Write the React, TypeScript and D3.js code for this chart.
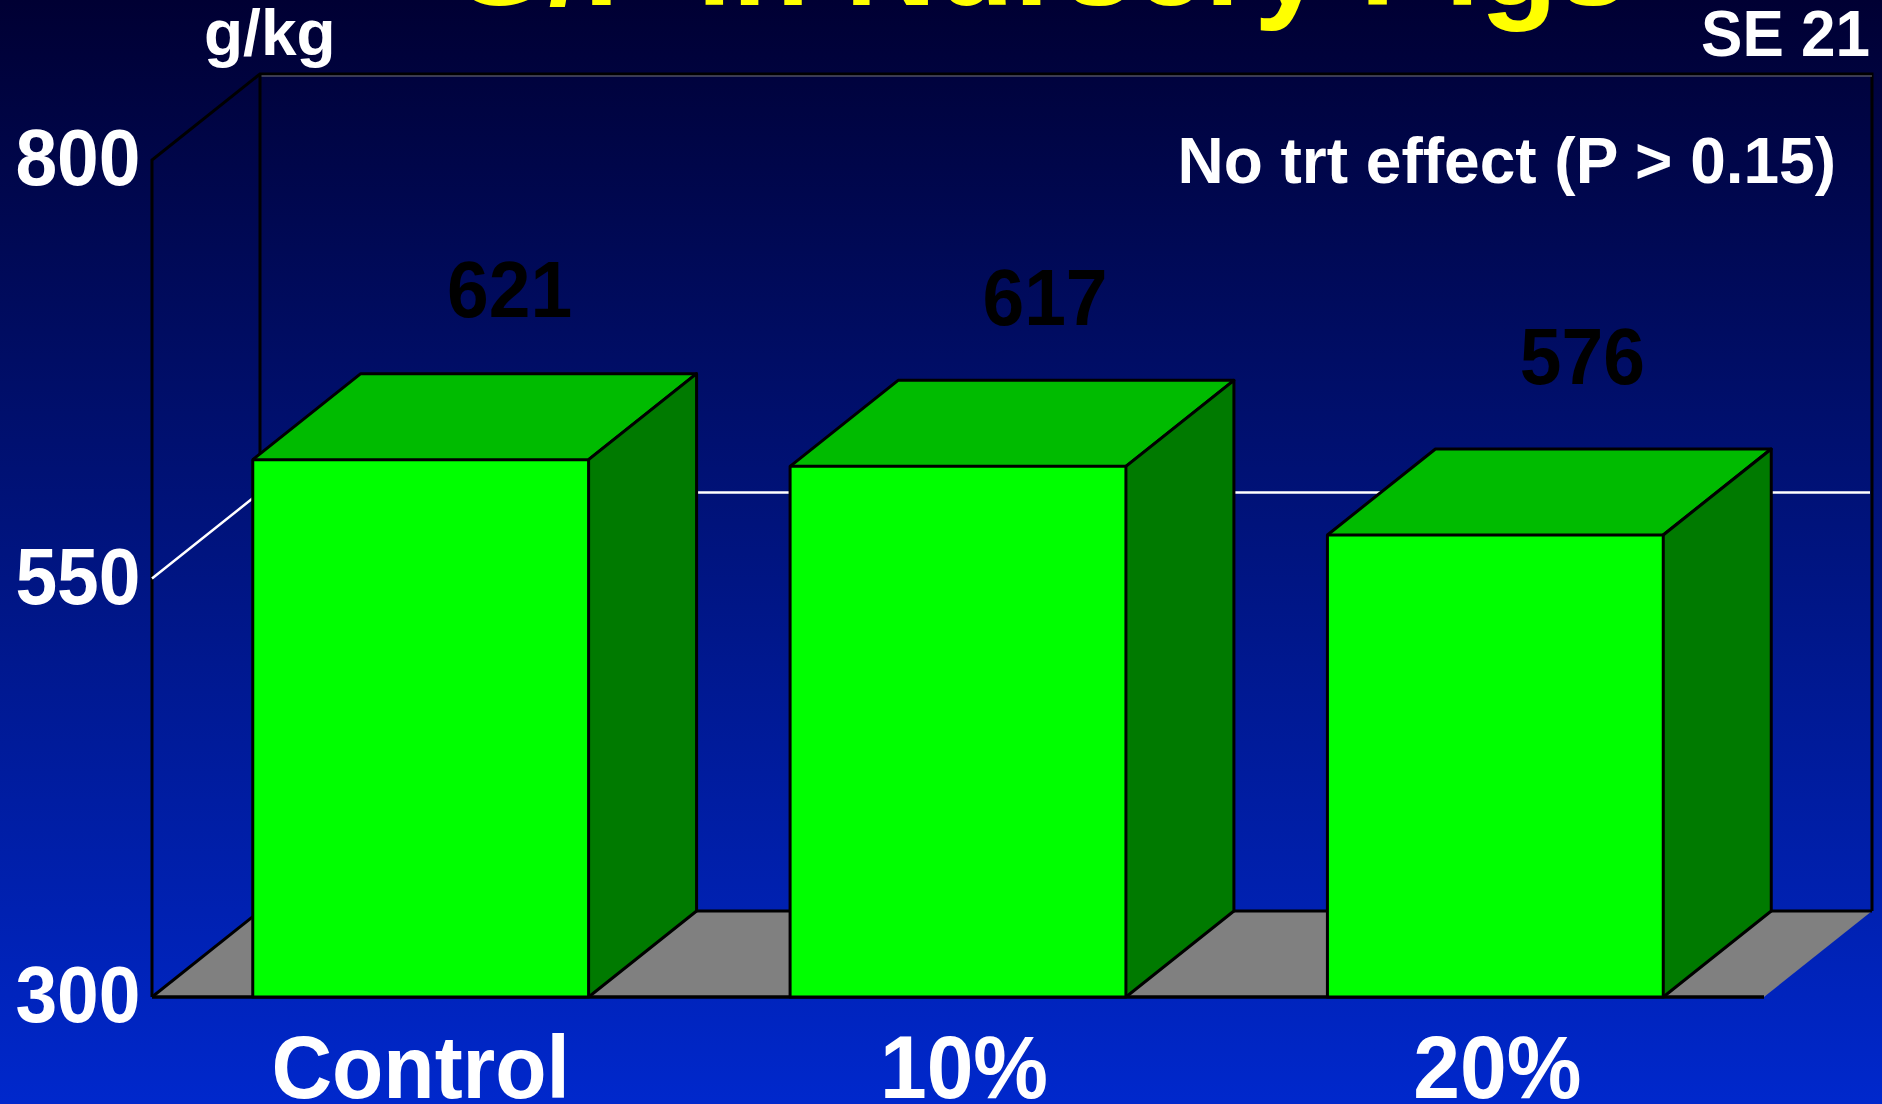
import React from "react";
import * as d3 from "d3";

// Gain efficiency of nursery pigs by treatment
const categories = ["Control", "10%", "20%"];
const values = [621, 617, 576];
const yTicks = [300, 550, 800];
const gridTicks = [550];

const W = 1882;
const H = 1104;
const DX = 108;
const DY = 86;

// Hand placement of the labels relative to their bars
const valueLift = [143, 141, 151];
const valueShift = [89, 87, 87];
const categoryShift = [0, 6, 2];

const x = d3.scaleBand<string>().domain(categories).range([152, 1764]).paddingInner(0.375).paddingOuter(0.1875);
const y = d3.scaleLinear().domain([300, 800]).range([997, 160]);
const poly = d3.line();

const font = "'Liberation Sans', Arial, sans-serif";

// Bold label, stretched a little in height like the slide's typeface
function Label({ x, y, size, sy = 1.06, anchor = "start", fill = "#fff", children }: any) {
  return (
    <text
      transform={`translate(${x},${y}) scale(1,${sy})`}
      textAnchor={anchor}
      fontFamily={font}
      fontWeight="700"
      fontSize={size}
      fill={fill}
    >
      {children}
    </text>
  );
}

export default function App() {
  const y0 = y(300);
  const y1 = y(800);
  const x0 = 152;
  const x1 = 1764;
  const floor = poly([[x0, y0], [x0 + DX, y0 - DY], [x1 + DX, y0 - DY], [x1, y0]])!;
  return (
    <svg width={W} height={H} viewBox={`0 0 ${W} ${H}`} style={{ position: "absolute", left: 0, top: 0, display: "block" }}>
      <defs>
        <linearGradient id="bg" x1="0" y1="0" x2="0" y2="1">
          <stop offset="0" stopColor="#000033" />
          <stop offset="1" stopColor="#0028cc" />
        </linearGradient>
      </defs>
      <rect width={W} height={H} fill="url(#bg)" />

      <Label x={1039} y={5} size={127} sy={1} anchor="middle" fill="#ffff00">G/F in Nursery Pigs</Label>

      {/* Wall outline */}
      <path d={poly([[x0, y0], [x0, y1], [x0 + DX, y1 - DY], [x1 + DX, y1 - DY], [x1 + DX, y0 - DY]])!} fill="none" stroke="#000" strokeWidth={3} />
      <line x1={x0 + DX} x2={x1 + DX} y1={y1 - DY + 2} y2={y1 - DY + 2} stroke="#777" strokeWidth={1} />
      <line x1={x0 + DX} x2={x0 + DX} y1={y1 - DY} y2={y0 - DY} stroke="#000" strokeWidth={3} />

      {/* Floor */}
      <path d={floor} fill="#808080" />
      <line x1={x0 + DX} x2={x1 + DX} y1={y0 - DY} y2={y0 - DY} stroke="#000" strokeWidth={3} />
      <line x1={x0} x2={x0 + DX} y1={y0} y2={y0 - DY} stroke="#000" strokeWidth={3} />
      <line x1={x0} x2={x1} y1={y0} y2={y0} stroke="#000" strokeWidth={3.5} />

      {/* Gridline running along the side wall and the back wall */}
      {gridTicks.map((t) => (
        <path key={t} d={poly([[x0, y(t)], [x0 + DX, y(t) - DY], [x1 + DX - 2, y(t) - DY]])!} fill="none" stroke="#fff" strokeWidth={2.5} />
      ))}

      {/* Bars */}
      {categories.map((c, i) => {
        const l = x(c)!;
        const r = l + x.bandwidth();
        const t = y(values[i]);
        return (
          <g key={c} stroke="#000" strokeWidth={3} strokeLinejoin="round">
            <path d={poly([[l, t], [l + DX, t - DY], [r + DX, t - DY], [r, t]])!} fill="#00bb00" />
            <path d={poly([[r, t], [r + DX, t - DY], [r + DX, y0 - DY], [r, y0]])!} fill="#007a00" />
            <rect x={l} y={t} width={x.bandwidth()} height={y0 - t} fill="#00ff00" />
          </g>
        );
      })}

      {/* Value labels */}
      {categories.map((c, i) => (
        <Label key={c} x={x(c)! + x.bandwidth() / 2 + valueShift[i]} y={y(values[i]) - valueLift[i]} size={75} anchor="middle" fill="#000">{values[i]}</Label>
      ))}

      {/* Axis labels */}
      {yTicks.map((t) => (
        <Label key={t} x={140.5} y={y(t) + 25} size={75} anchor="end">{t}</Label>
      ))}
      {categories.map((c, i) => (
        <Label key={c} x={x(c)! + x.bandwidth() / 2 + categoryShift[i]} y={1098} size={84} anchor="middle">{c}</Label>
      ))}

      <Label x={204} y={54.5} size={64} sy={1}>g/kg</Label>
      <Label x={1870} y={55.5} size={62} anchor="end">SE 21</Label>
      <Label x={1836} y={183} size={64} sy={1} anchor="end">No trt effect (P &gt; 0.15)</Label>
    </svg>
  );
}
